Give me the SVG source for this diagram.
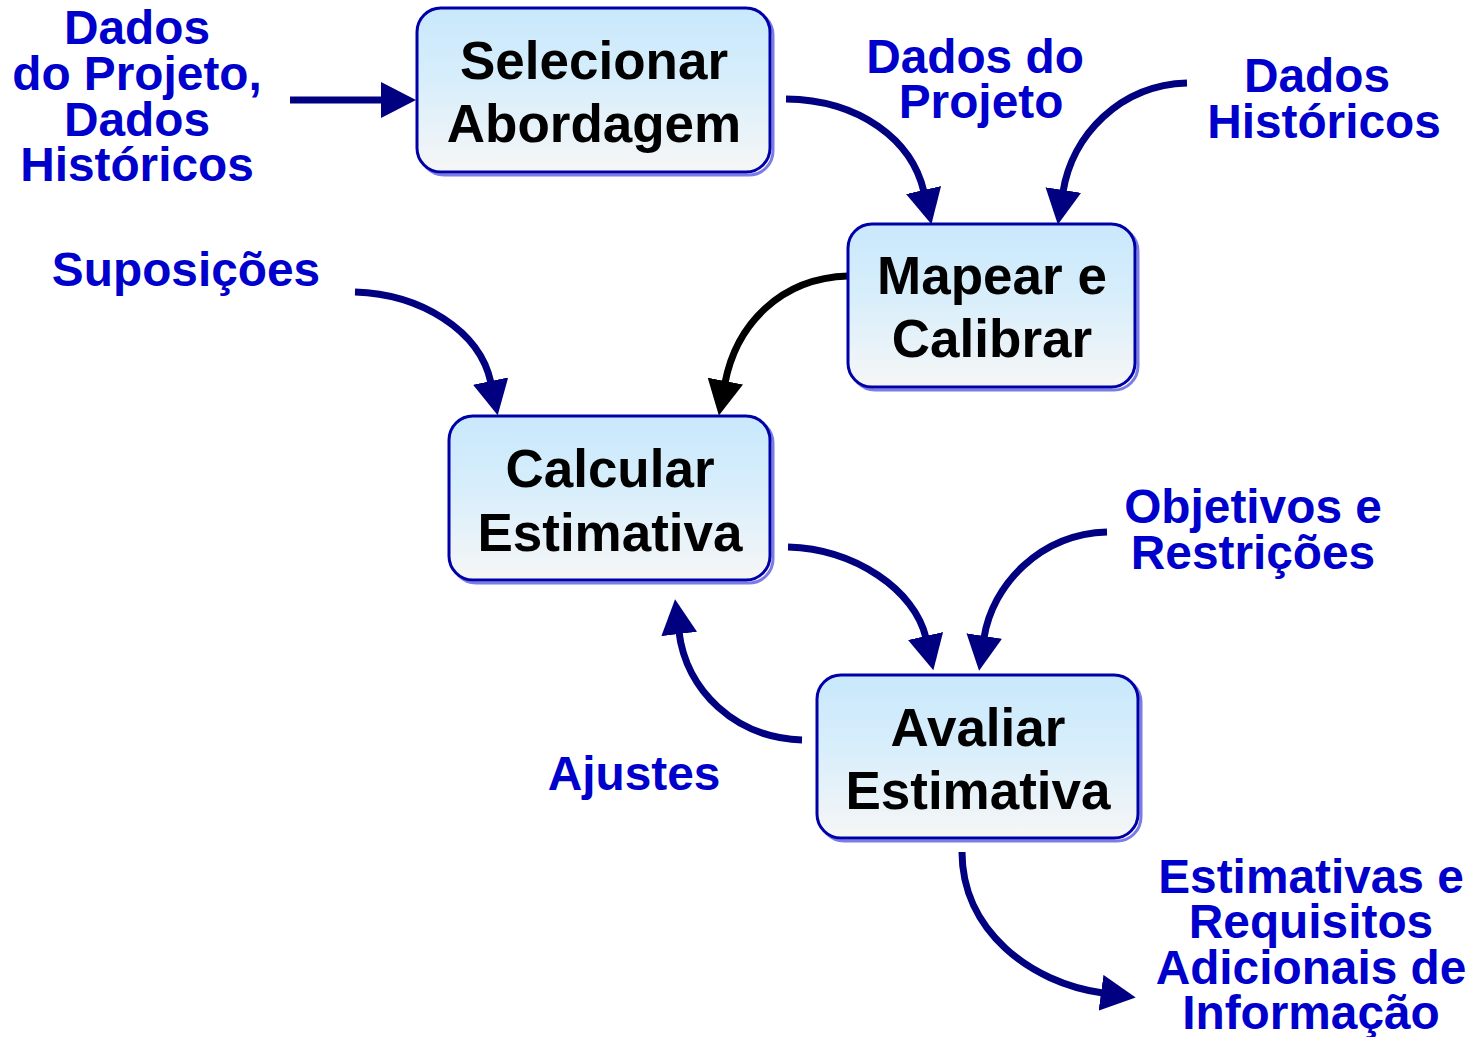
<svg xmlns="http://www.w3.org/2000/svg" width="1481" height="1037" viewBox="0 0 1481 1037">
<style>
.box{stroke:#0000A8;stroke-width:3;fill:url(#g)}
.sh{stroke:#7C7CE6;stroke-width:3;fill:none}
.bt{font-family:"Liberation Sans",Arial,sans-serif;font-weight:bold;font-size:53px;fill:#000;text-anchor:middle}
.lt{font-family:"Liberation Sans",Arial,sans-serif;font-weight:bold;font-size:47.8px;fill:#0000CC;text-anchor:middle}
.c{fill:none;stroke:#000080;stroke-width:7}
.k{fill:none;stroke:#000;stroke-width:7}
</style>
<defs>
<linearGradient id="g" x1="0" y1="0" x2="0" y2="1">
<stop offset="0" stop-color="#C8E8FC"/>
<stop offset="0.45" stop-color="#D8EEFB"/>
<stop offset="1" stop-color="#F6F6F6"/>
</linearGradient>
<marker id="an" viewBox="0 0 35 36" refX="2" refY="18" markerWidth="35" markerHeight="36" markerUnits="userSpaceOnUse" orient="auto">
<path d="M0,0 L35,18 L0,36 Z" fill="#000080"/>
</marker>
<marker id="ak" viewBox="0 0 35 36" refX="2" refY="18" markerWidth="35" markerHeight="36" markerUnits="userSpaceOnUse" orient="auto">
<path d="M0,0 L35,18 L0,36 Z" fill="#000"/>
</marker>
</defs>
<rect width="1481" height="1037" fill="#fff"/>

<g id="connectors">
<path class="c" d="M290,100 L383,100" marker-end="url(#an)"/>
<path class="c" d="M786,99 C860,100 912,140 924,192" marker-end="url(#an)"/>
<path class="c" d="M1187,83 C1120,85 1072,135 1063,192" marker-end="url(#an)"/>
<path class="k" d="M848,276 C780,278 736,325 725,383" marker-end="url(#ak)"/>
<path class="c" d="M355,292 C420,294 480,330 491,383" marker-end="url(#an)"/>
<path class="c" d="M788,547 C855,549 915,590 926,638" marker-end="url(#an)"/>
<path class="c" d="M1107,532 C1040,534 992,585 984,638" marker-end="url(#an)"/>
<path class="c" d="M802,740 C735,738 686,690 679,632" marker-end="url(#an)"/>
<path class="c" d="M962,852 C962,930 1030,983 1103,993" marker-end="url(#an)"/>
</g>

<g id="selecionar">
<rect class="sh" x="420" y="11" width="353" height="164" rx="24"/>
<rect class="box" x="417" y="8" width="353" height="164" rx="24"/>
<text class="bt" x="594" y="79">Selecionar</text>
<text class="bt" x="594" y="142">Abordagem</text>
</g>

<g id="mapear">
<rect class="sh" x="851" y="227" width="287" height="163" rx="24"/>
<rect class="box" x="848" y="224" width="287" height="163" rx="24"/>
<text class="bt" x="992" y="294">Mapear e</text>
<text class="bt" x="992" y="357">Calibrar</text>
</g>

<g id="calcular">
<rect class="sh" x="452" y="419" width="321" height="164" rx="24"/>
<rect class="box" x="449" y="416" width="321" height="164" rx="24"/>
<text class="bt" x="610" y="487">Calcular</text>
<text class="bt" x="610" y="551">Estimativa</text>
</g>

<g id="avaliar">
<rect class="sh" x="820" y="678" width="321" height="163" rx="24"/>
<rect class="box" x="817" y="675" width="321" height="163" rx="24"/>
<text class="bt" x="978" y="746">Avaliar</text>
<text class="bt" x="978" y="809">Estimativa</text>
</g>

<g id="labels">
<text class="lt" x="137" y="44">Dados</text>
<text class="lt" x="137" y="90">do Projeto,</text>
<text class="lt" x="137" y="136">Dados</text>
<text class="lt" x="137" y="181">Históricos</text>
<text class="lt" x="975" y="73">Dados do</text>
<text class="lt" x="981" y="118">Projeto</text>
<text class="lt" x="1317" y="92">Dados</text>
<text class="lt" x="1324" y="138">Históricos</text>
<text class="lt" x="186" y="286">Suposições</text>
<text class="lt" x="1253" y="523">Objetivos e</text>
<text class="lt" x="1253" y="569">Restrições</text>
<text class="lt" x="634" y="790">Ajustes</text>
<text class="lt" x="1311" y="893">Estimativas e</text>
<text class="lt" x="1311" y="938">Requisitos</text>
<text class="lt" x="1311" y="984">Adicionais de</text>
<text class="lt" x="1311" y="1029">Informação</text>
</g>
</svg>
